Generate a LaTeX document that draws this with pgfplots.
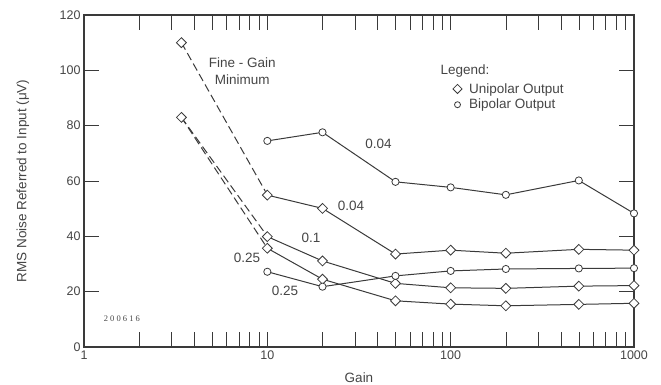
\documentclass[border=0pt]{standalone}
\usepackage{fontspec}
\setmainfont{Liberation Sans}
\newfontfamily\codefont{Liberation Serif}[LetterSpace=25]
\usepackage{pgfplots}
\pgfplotsset{compat=1.18}
\definecolor{ink}{HTML}{3A3A3A}
\definecolor{txt}{HTML}{454545}
\begin{document}
\begin{tikzpicture}
\useasboundingbox (-84pt,-37pt) rectangle (577pt,347pt);
\begin{axis}[
  scale only axis, width=550pt, height=332pt,
  xmode=log, xmin=1, xmax=1000, ymin=0, ymax=120,
  xtick={1,10,100,1000}, xticklabels={1,10,100,1000},
  minor xtick={2,3,4,5,6,7,8,9,20,30,40,50,60,70,80,90,200,300,400,500,600,700,800,900},
  ytick={0,20,40,60,80,100,120},
  xtick pos=both, ytick pos=both, xticklabel pos=bottom, yticklabel pos=left,
  tick align=inside,
  major tick length=15pt, minor tick length=15pt,
  every tick/.style={ink, line width=0.6pt},
  axis line style={ink, line width=1.3pt},
  /pgf/number format/assume math mode=true,
  tick label style={txt, font=\fontsize{12.5}{14}\selectfont},
  xlabel={Gain},
  ylabel={RMS Noise Referred to Input (μV)},
  every axis x label/.style={at={(axis description cs:0.5,-0.092)}, anchor=center, txt, font=\fontsize{13.5}{15}\selectfont},
  every axis y label/.style={at={(axis description cs:-0.111,0.5)}, anchor=center, rotate=90, txt, font=\fontsize{13.5}{15}\selectfont},
  clip=false,
  legend style={draw=none, fill=none, at={(axis description cs:0.6705,0.801)}, anchor=north west,
    font=\fontsize{13.5}{15}\selectfont, text=txt, row sep=0.5pt, inner sep=0pt, nodes={inner xsep=7pt}},
  legend cell align=left,
]
% legend
\addlegendimage{only marks, mark=square, mark size=3.2pt, mark options={rotate=45, ink, line width=0.8pt}}
\addlegendentry{Unipolar Output}
\addlegendimage{only marks, mark=o, mark size=3pt, mark options={ink, line width=0.8pt}}
\addlegendentry{Bipolar Output}

% dashed fine-gain minimum lines
\addplot[ink, line width=1pt, dash pattern=on 8pt off 4pt, forget plot] coordinates {(3.4,110) (10,55)};
\addplot[ink, line width=1pt, dash pattern=on 8pt off 4pt, forget plot] coordinates {(3.4,83) (10,40)};
\addplot[ink, line width=1pt, dash pattern=on 8pt off 4pt, forget plot] coordinates {(3.4,83) (10,35.7)};
\addplot[only marks, mark=square*, mark size=3.5pt, mark options={rotate=45, ink, fill=white, line width=0.8pt}, forget plot]
  coordinates {(3.4,110) (3.4,83)};

% Bipolar 0.04
\addplot[ink, line width=1pt, mark=*, mark size=3.6pt, mark options={fill=white, line width=0.8pt}, forget plot]
  coordinates {(10,74.5) (20,77.6) (50,59.7) (100,57.7) (200,55) (500,60.2) (1000,48.3)};
% Unipolar 0.04
\addplot[ink, line width=1pt, mark=square*, mark size=3.5pt, mark options={rotate=45, fill=white, line width=0.8pt}, forget plot]
  coordinates {(10,54.9) (20,50.1) (50,33.6) (100,35) (200,33.9) (500,35.3) (1000,35)};
% Unipolar 0.1
\addplot[ink, line width=1pt, mark=square*, mark size=3.5pt, mark options={rotate=45, fill=white, line width=0.8pt}, forget plot]
  coordinates {(10,39.9) (20,31.1) (50,23) (100,21.4) (200,21.2) (500,22) (1000,22.2)};
% Unipolar 0.25
\addplot[ink, line width=1pt, mark=square*, mark size=3.5pt, mark options={rotate=45, fill=white, line width=0.8pt}, forget plot]
  coordinates {(10,35.7) (20,24.5) (50,16.7) (100,15.5) (200,14.9) (500,15.4) (1000,15.8)};
% Bipolar 0.25
\addplot[ink, line width=1pt, mark=*, mark size=3.6pt, mark options={fill=white, line width=0.8pt}, forget plot]
  coordinates {(10,27.2) (20,21.8) (50,25.7) (100,27.5) (200,28.2) (500,28.4) (1000,28.5)};

% annotations
\begin{scope}[every node/.style={txt, font=\fontsize{13.5}{15}\selectfont}]
\node at (axis cs:40.4,73.4) {0.04};
\node at (axis cs:28.6,51) {0.04};
\node at (axis cs:17.3,39.4) {0.1};
\node at (axis cs:7.75,32.2) {0.25};
\node at (axis cs:12.5,20.2) {0.25};
\node[align=center, font=\fontsize{13.5}{17}\selectfont] at (axis cs:7.3,99.8) {Fine - Gain\\Minimum};
\node[anchor=west] at (axis cs:84.2,99.7) {Legend:};
\end{scope}
\node[txt, font=\codefont\fontsize{8.5}{10}\selectfont] at (axis cs:1.61,10.1) {200616};
\end{axis}
\end{tikzpicture}
\end{document}
